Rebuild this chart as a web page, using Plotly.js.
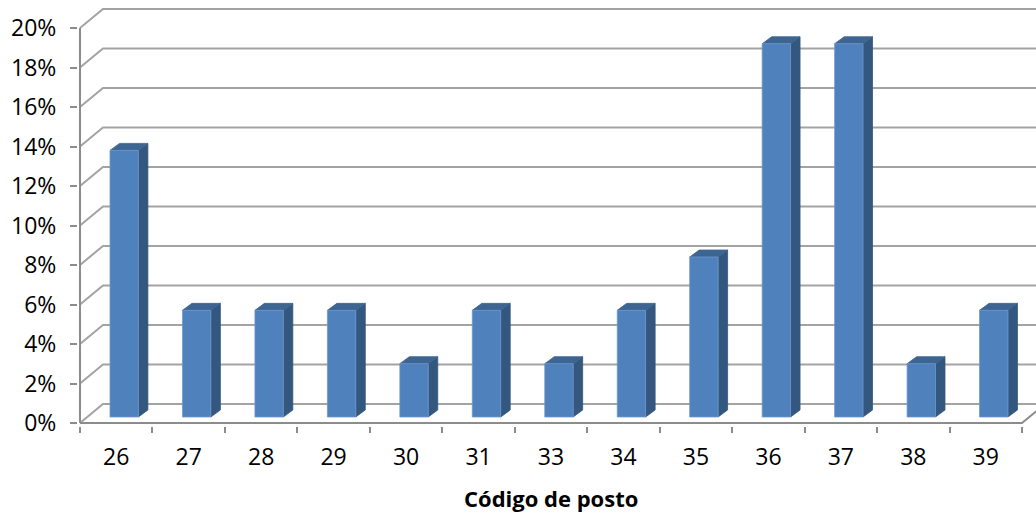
<!DOCTYPE html>
<html>
<head>
<meta charset="utf-8">
<script src="https://cdn.plot.ly/plotly-3.0.1.min.js"></script>
<style>
  html, body { margin: 0; padding: 0; background: #ffffff; }
  #chart { width: 1036px; height: 514px; }
</style>
</head>
<body>
<div id="chart"></div>
<script>
// Share of records per station code (percent)
const categories = ['26', '27', '28', '29', '30', '31', '33', '34', '35', '36', '37', '38', '39'];
const shares = [13.5, 5.4, 5.4, 5.4, 2.7, 5.4, 2.7, 5.4, 8.1, 18.9, 18.9, 2.7, 5.4];
const yTicks = [0, 2, 4, 6, 8, 10, 12, 14, 16, 18, 20];
const yTickText = yTicks.map(v => v + '%');

// Pseudo-3D projection settings (in axis units)
const FLOOR_DX = 0.317, FLOOR_DY = 0.962;   // depth of the floor / back wall
const FRONT_DX = 0.110, FRONT_DY = 0.304;   // bar front plane
const BAR_DX = 0.131, BAR_DY = 0.354;       // bar depth
const HALF_W = 0.196;                       // half width of a bar front
const X_LEFT = -0.5, X_RIGHT = categories.length - 0.5;

const FONT = '"Open Sans", "Noto Sans", sans-serif';
const GRID = '#a3a3a3';
const AXIS = '#8c8c8c';
const FRONT = '#4f81bd';
const SIDE = '#34577f';
const TOP = '#3d6592';

const traces = [];

// Wall gridlines: diagonal on the left wall, then the back wall line
yTicks.forEach(v => {
  traces.push({
    type: 'scatter', mode: 'lines', hoverinfo: 'skip', showlegend: false,
    x: [X_LEFT, X_LEFT + FLOOR_DX, X_RIGHT + FLOOR_DX + 1],
    y: [v, v + FLOOR_DY, v + FLOOR_DY],
    line: { color: GRID, width: 2 }
  });
});

// Floor edges: front axis line and right-hand diagonal
traces.push({
  type: 'scatter', mode: 'lines', hoverinfo: 'skip', showlegend: false,
  x: [X_LEFT, X_RIGHT, X_RIGHT + FLOOR_DX],
  y: [0, 0, FLOOR_DY],
  line: { color: AXIS, width: 2 }
});
// Vertical value axis line
traces.push({
  type: 'scatter', mode: 'lines', hoverinfo: 'skip', showlegend: false,
  x: [X_LEFT, X_LEFT],
  y: [0, yTicks[yTicks.length - 1]],
  line: { color: AXIS, width: 2 }
});

// Columns: side face, top face, front face
function poly(xs, ys, fill, edge) {
  return {
    type: 'scatter', mode: 'lines', fill: 'toself', hoverinfo: 'skip', showlegend: false,
    x: xs, y: ys, fillcolor: fill, line: { color: edge, width: 0.8 }
  };
}
shares.forEach((v, i) => {
  const x0 = i + FRONT_DX - HALF_W;
  const x1 = i + FRONT_DX + HALF_W;
  const y0 = FRONT_DY;
  const y1 = FRONT_DY + v;
  traces.push(poly(
    [x1, x1 + BAR_DX, x1 + BAR_DX, x1, x1],
    [y0, y0 + BAR_DY, y1 + BAR_DY, y1, y0],
    SIDE, SIDE));
  traces.push(poly(
    [x0, x0 + BAR_DX, x1 + BAR_DX, x1, x0],
    [y1, y1 + BAR_DY, y1 + BAR_DY, y1, y1],
    TOP, TOP));
  traces.push(poly(
    [x0, x1, x1, x0, x0],
    [y0, y0, y1, y1, y0],
    FRONT, '#6f98cc'));
});

const layout = {
  width: 1036, height: 514,
  margin: { l: 78, r: 0, t: 5, b: 88 },
  paper_bgcolor: '#ffffff', plot_bgcolor: '#ffffff',
  showlegend: false,
  font: { family: FONT, color: '#000000', size: 23 },
  xaxis: {
    range: [-0.5276, 12.693],
    showgrid: false, zeroline: false, showline: false,
    tickmode: 'array',
    tickvals: categories.map((c, i) => i),
    ticktext: categories,
    ticks: '',
    ticklabelstandoff: 15,
    tickfont: { family: FONT, size: 23, color: '#000000' },
    minor: {
      tickmode: 'array',
      tickvals: categories.map((c, i) => i - 0.5).concat([X_RIGHT]),
      ticks: 'outside', ticklen: 6, tickcolor: AXIS, tickwidth: 2, showgrid: false
    },
    fixedrange: true
  },
  yaxis: {
    range: [-0.152, 21.165],
    showgrid: false, zeroline: false, showline: false,
    tickmode: 'array',
    tickvals: yTicks, ticktext: yTickText,
    ticks: 'outside', ticklen: 7, tickcolor: AXIS, tickwidth: 2,
    ticklabelstandoff: 9,
    tickfont: { family: FONT, size: 23, color: '#000000' },
    fixedrange: true
  },
  annotations: [{
    text: '<b>Código de posto</b>',
    xref: 'x', yref: 'paper',
    x: (categories.length - 1) / 2, y: 0,
    yshift: -55, yanchor: 'top', xanchor: 'center',
    showarrow: false,
    font: { family: FONT, size: 22, color: '#000000' }
  }]
};

Plotly.newPlot('chart', traces, layout, { displayModeBar: false, staticPlot: true });
</script>
</body>
</html>
